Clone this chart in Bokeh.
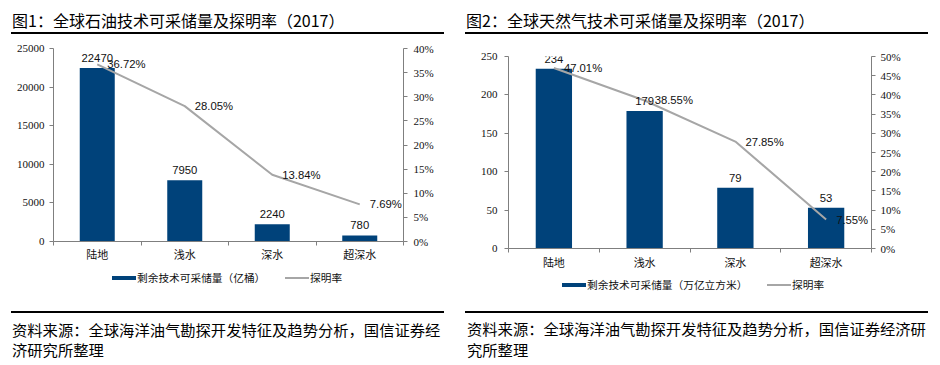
from bokeh.plotting import figure
from bokeh.layouts import row, column
from bokeh.models import (ColumnDataSource, Range1d, LinearAxis, FixedTicker, PrintfTickFormatter,
                          LabelSet, Div, Spacer)
from bokeh.core.properties import value
from bokeh.embed import file_html
from bokeh.resources import INLINE

# ---------------- data ----------------
categories = ["陆地", "浅水", "深水", "超深水"]
oil_reserves = [22470, 7950, 2240, 780]
oil_rates = [36.72, 28.05, 13.84, 7.69]
gas_reserves = [234, 179, 79, 53]
gas_rates = [47.01, 38.55, 27.85, 7.55]

oil_title = "图1：全球石油技术可采储量及探明率（2017）"
gas_title = "图2：全球天然气技术可采储量及探明率（2017）"
oil_bar_name = "剩余技术可采储量（亿桶）"
gas_bar_name = "剩余技术可采储量（万亿立方米）"
rate_name = "探明率"
oil_source = ["资料来源：全球海洋油气勘探开发特征及趋势分析，国信证券经", "济研究所整理"]
gas_source = ["资料来源：全球海洋油气勘探开发特征及趋势分析，国信证券经济研", "究所整理"]

oil_y_ticks = [0, 5000, 10000, 15000, 20000, 25000]
oil_rate_ticks = [0, 5, 10, 15, 20, 25, 30, 35, 40]
gas_y_ticks = [0, 50, 100, 150, 200, 250]
gas_rate_ticks = [0, 5, 10, 15, 20, 25, 30, 35, 40, 45, 50]

BAR = "#00427A"
LINE = "#A6A6A6"
AXIS = "#7F7F7F"
CJK = "Noto Sans CJK SC"
SERIF = "Liberation Serif"
SANS = "Liberation Sans"

TOP_H = 34          # header strip height
PLOT_TOP = 14       # plot top border
FRAME_H = 193
PLOT_BOT = 23       # plot bottom border (axis labels)
PLOT_H = PLOT_TOP + FRAME_H + PLOT_BOT
FOOTER_TOP = TOP_H + 8 + PLOT_H
BOT_H = 360 - FOOTER_TOP


def make_plot(reserves, rates, y_ticks, rate_ticks, g):
    n = len(categories)
    xs = [i + 0.5 for i in range(n)]
    src = ColumnDataSource(dict(
        x=xs, cat=categories, reserve=reserves, rate=rates,
        reserve_text=[str(v) for v in reserves],
        rate_text=["%.2f%%" % r for r in rates],
    ))
    p = figure(width=g["width"], height=PLOT_H, output_backend="svg", toolbar_location=None,
               x_range=Range1d(0, n), y_range=Range1d(y_ticks[0], y_ticks[-1]),
               min_border_left=g["bl"], min_border_right=g["br"],
               min_border_top=PLOT_TOP, min_border_bottom=PLOT_BOT, title=None)
    p.extra_y_ranges = {"rate": Range1d(rate_ticks[0], rate_ticks[-1])}
    p.outline_line_color = None
    p.xgrid.visible = False
    p.ygrid.visible = False

    p.vbar(x="x", top="reserve", width=0.4, source=src, fill_color=BAR, line_color=None)
    p.line(x="x", y="rate", source=src, y_range_name="rate", line_color=LINE, line_width=2)

    p.add_layout(LabelSet(x="x", y="reserve", text="reserve_text", source=src, y_offset=6,
                          text_align="center", text_baseline="bottom",
                          text_font=value(SANS), text_font_size="11.3px", text_color="#111111"))
    p.add_layout(LabelSet(x="x", y="rate", text="rate_text", source=src, y_range_name="rate",
                          x_offset=10, text_align="left", text_baseline="middle",
                          text_font=value(SANS), text_font_size="11.3px", text_color="#111111"))

    xa = p.xaxis[0]
    xa.ticker = FixedTicker(ticks=xs, minor_ticks=[i for i in range(n + 1)])
    xa.major_label_overrides = {x: c for x, c in zip(xs, categories)}
    xa.major_tick_line_color = None
    xa.major_tick_out = 0
    xa.major_tick_in = 0
    xa.minor_tick_out = 4
    xa.minor_tick_in = 0
    xa.minor_tick_line_color = AXIS
    xa.axis_line_color = AXIS
    xa.major_label_standoff = g["xstand"]
    xa.major_label_text_font = CJK
    xa.major_label_text_font_size = "11px"
    xa.major_label_text_color = "#111111"

    ya = p.yaxis[0]
    ya.ticker = FixedTicker(ticks=y_ticks)
    ya.major_tick_out = 4
    ya.major_tick_in = 0
    ya.minor_tick_line_color = None
    ya.axis_line_color = AXIS
    ya.major_tick_line_color = AXIS
    ya.major_label_standoff = g["lstand"]
    ya.major_label_text_font = SERIF
    ya.major_label_text_font_size = "11px"
    ya.major_label_text_color = "#111111"

    ra = LinearAxis(y_range_name="rate", ticker=FixedTicker(ticks=rate_ticks),
                    formatter=PrintfTickFormatter(format="%d%%"))
    ra.major_tick_out = 4
    ra.major_tick_in = 0
    ra.minor_tick_line_color = None
    ra.axis_line_color = AXIS
    ra.major_tick_line_color = AXIS
    ra.major_label_standoff = g["rstand"]
    ra.major_label_text_font = SERIF
    ra.major_label_text_font_size = "11px"
    ra.major_label_text_color = "#111111"
    p.add_layout(ra, "right")
    return p


# left frame x 53..403 (y 48..241); right frame x 508..871 (y 56..249)
g_left = dict(width=456, bl=53, br=53, xstand=0, lstand=5, rstand=6)
g_right = dict(width=484, bl=52, br=69, xstand=1, lstand=7, rstand=5)

p1 = make_plot(oil_reserves, oil_rates, oil_y_ticks, oil_rate_ticks, g_left)
p2 = make_plot(gas_reserves, gas_rates, gas_y_ticks, gas_rate_ticks, g_right)

font = "font-family:'%s';color:#000;white-space:nowrap;position:absolute;" % CJK
lfont = "font-family:'%s';color:#111;white-space:nowrap;position:absolute;font-size:10.7px;line-height:12px;" % CJK


def rule(x, y, w, h=2, color="#000"):
    return ('<div style="position:absolute;left:%.1fpx;top:%.1fpx;width:%dpx;height:%dpx;background:%s;"></div>'
            % (x, y, w, h, color))


def legend_html(x_bar, x_line, cy, bar_name):
    t = FOOTER_TOP
    return (rule(x_bar, cy - 2 - t, 24, 4, BAR)
            + '<div style="%sleft:%dpx;top:%.1fpx;">%s</div>' % (lfont, x_bar + 25, cy - 6 - t, bar_name)
            + rule(x_line, cy - 1 - t, 24, 2, LINE)
            + '<div style="%sleft:%dpx;top:%.1fpx;">%s</div>' % (lfont, x_line + 25, cy - 6 - t, rate_name))


header_html = (
    '<div style="position:relative;width:940px;height:%dpx;">' % TOP_H
    + '<div style="%sleft:12px;top:10px;font-size:16px;line-height:20px;">%s</div>' % (font, oil_title)
    + rule(11, 32, 433)
    + '<div style="%sleft:466px;top:9.5px;font-size:16px;line-height:20px;">%s</div>' % (font, gas_title)
    + rule(465, 32, 463)
    + '</div>'
)
t = FOOTER_TOP
footer_html = (
    '<div style="position:relative;width:940px;height:%dpx;">' % BOT_H
    + legend_html(112, 285, 278, oil_bar_name)
    + legend_html(562, 767, 285, gas_bar_name)
    + rule(11, 311 - t, 433)
    + '<div style="%sleft:12px;top:%.1fpx;font-size:15.3px;line-height:20px;">%s</div>'
    % (font, 329.3 - 10 - t, "<br>".join(oil_source))
    + rule(465, 310.7 - t, 463)
    + '<div style="%sleft:467px;top:%.1fpx;font-size:15.3px;line-height:20.5px;">%s</div>'
    % (font, 328 - 10 - t, "<br>".join(gas_source))
    + '</div>'
)

header = Div(text=header_html, width=940, height=TOP_H, margin=0)
footer = Div(text=footer_html, width=940, height=BOT_H, margin=0)

charts = row(column(p1, Spacer(width=456, height=8)),
             column(Spacer(width=484, height=8), p2), spacing=0)
layout = column(header, charts, footer, spacing=0)
open("out.html", "w").write(file_html(layout, INLINE))
